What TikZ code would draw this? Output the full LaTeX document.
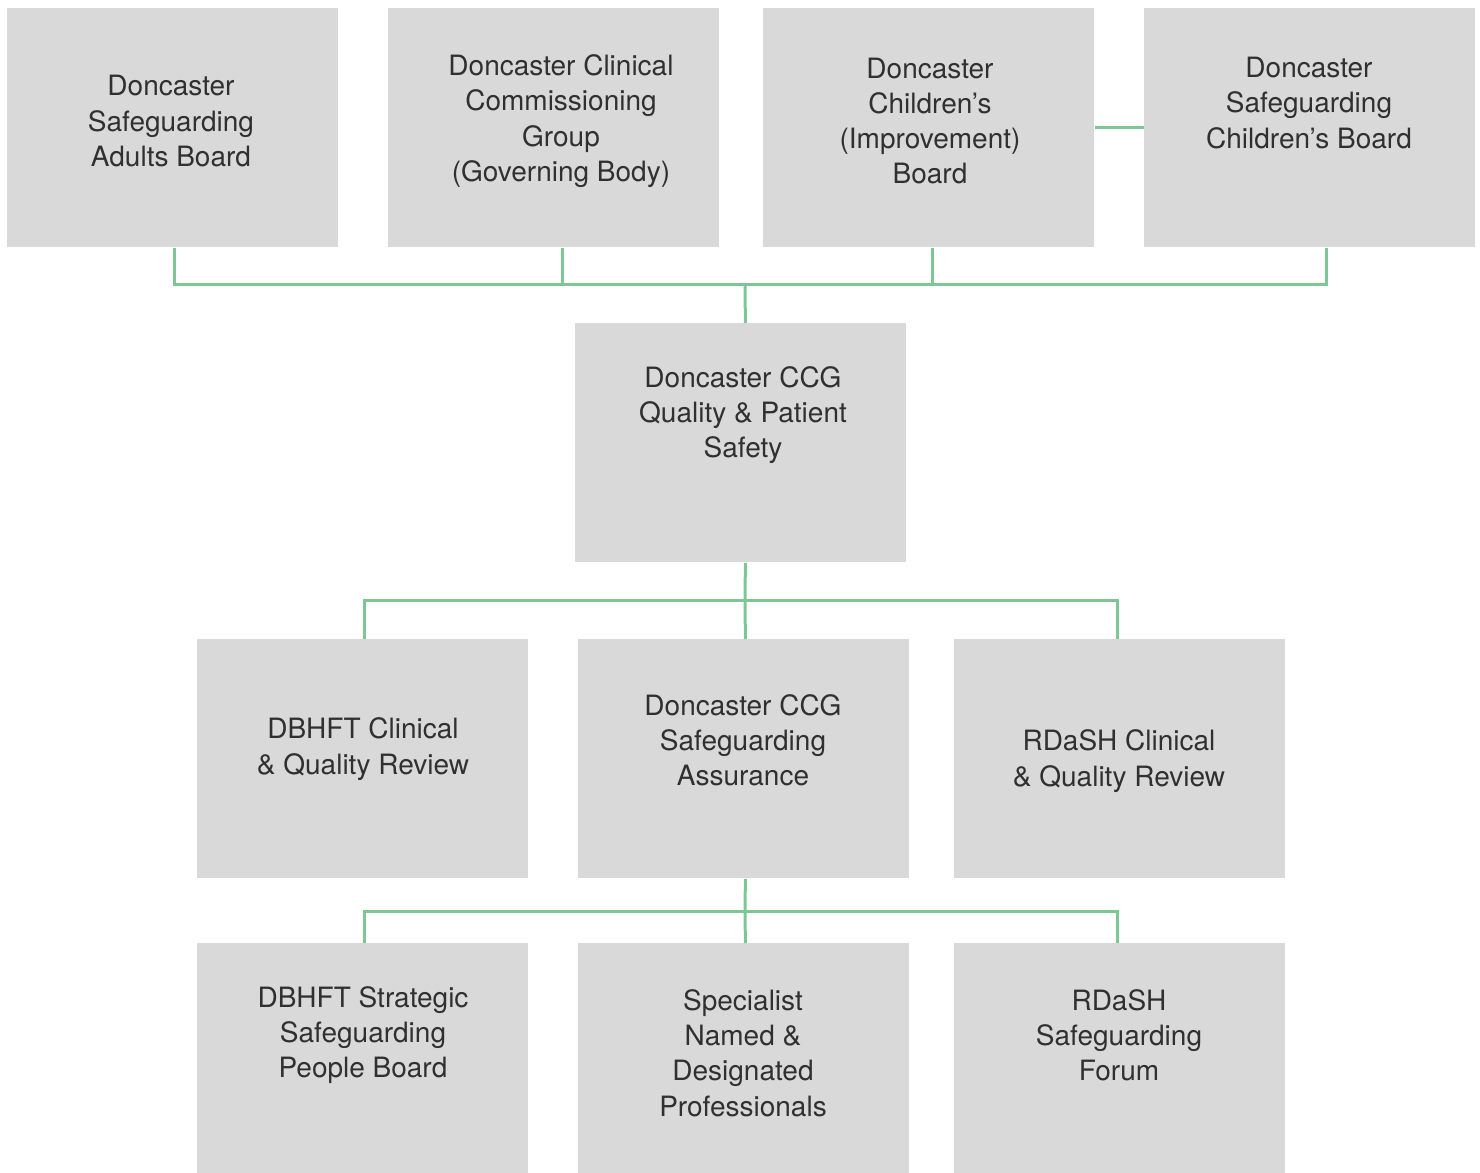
\documentclass[tikz,border=0pt]{standalone}
\usepackage{fontspec}
\setmainfont{TeX Gyre Heros}
\usetikzlibrary{calc}
\definecolor{boxgray}{HTML}{D9D9D9}
\definecolor{linegreen}{HTML}{7DC795}
\definecolor{textc}{HTML}{303030}
\tikzset{
  box/.style={fill=boxgray, draw=none, inner sep=0pt, minimum width=165.5pt, minimum height=119.5pt},
  boxlow/.style={fill=boxgray, draw=none, inner sep=0pt, minimum width=165.5pt, minimum height=115pt},
  txt/.style={align=center, text=textc, font=\fontsize{14pt}{17.6pt}\selectfont, inner sep=0pt},
  conn/.style={draw=linegreen, line width=1.5pt}
}
\begin{document}
\begin{tikzpicture}[x=0.5pt,y=-0.5pt]
\useasboundingbox (0,0) rectangle (1480,1173);
% row 1
\node[box, anchor=north west] (a) at (7,8) {};
\node[box, anchor=north west] (b) at (388,8) {};
\node[box, anchor=north west] (c) at (763,8) {};
\node[box, anchor=north west] (d) at (1144,8) {};
% center
\node[box, anchor=north west] (q) at (575,323) {};
% row 3
\node[box, anchor=north west] (e) at (197,639) {};
\node[box, anchor=north west] (f) at (578,639) {};
\node[box, anchor=north west] (g) at (954,639) {};
% row 4
\node[boxlow, anchor=north west] (h) at (197,943) {};
\node[boxlow, anchor=north west] (i) at (578,943) {};
\node[boxlow, anchor=north west] (j) at (954,943) {};

% texts
\node[txt] (ta) at (171,121) {Doncaster\\Safeguarding\\Adults Board};
\node[txt] (tb) at (561,121) {Doncaster Clinical\\Commissioning\\Group\\(Governing Body)};
\node[txt] (tc) at (930,121) {Doncaster\\Children’s\\(Improvement)\\Board};
\node[txt] (td) at (1309,103) {Doncaster\\Safeguarding\\Children’s Board};
\node[txt] (tq) at (743,415) {Doncaster CCG\\Quality \& Patient\\Safety};
\node[txt] (te) at (363,749) {DBHFT Clinical\\\& Quality Review};
\node[txt] (tf) at (743,740) {Doncaster CCG\\Safeguarding\\Assurance};
\node[txt] (tg) at (1119,761) {RDaSH Clinical\\\& Quality Review};
\node[txt] (th) at (363,1035) {DBHFT Strategic\\Safeguarding\\People Board};
\node[txt] (ti) at (743,1053) {Specialist\\Named \&\\Designated\\Professionals};
\node[txt] (tj) at (1119,1035) {RDaSH\\Safeguarding\\Forum};

% connectors: top bus
\coordinate (bus1) at (745,284);
\draw[conn] ([xshift=0.75pt]a.south) |- (bus1);
\draw[conn] ([xshift=4.25pt]b.south) |- (bus1);
\draw[conn] ([xshift=1.75pt]c.south) |- (bus1);
\draw[conn] ([xshift=8.25pt]d.south) |- (bus1);
\draw[conn] (bus1) -- ([xshift=2.25pt]q.north);
\draw[conn] (c.east) -- (d.west);

% middle bus
\coordinate (bus2) at (745,600);
\draw[conn] ([xshift=2.25pt]q.south) -- (bus2);
\draw[conn] (bus2) -| ([xshift=0.75pt]e.north);
\draw[conn] (bus2) -| ([xshift=-1.25pt]g.north);
\draw[conn] (bus2) -- ([xshift=0.75pt]f.north);

% lower bus
\coordinate (bus3) at (745,911);
\draw[conn] ([xshift=0.75pt]f.south) -- (bus3);
\draw[conn] (bus3) -| ([xshift=0.75pt]h.north);
\draw[conn] (bus3) -| ([xshift=-1.25pt]j.north);
\draw[conn] (bus3) -- ([xshift=0.75pt]i.north);
\end{tikzpicture}
\end{document}
